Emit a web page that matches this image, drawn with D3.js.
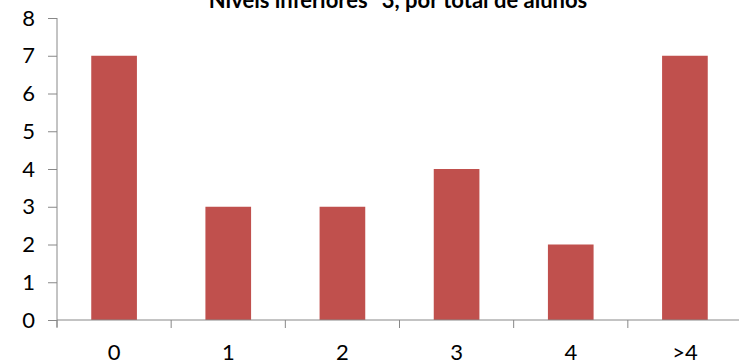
<!DOCTYPE html>
<html><head><meta charset="utf-8">
<script src="https://cdn.jsdelivr.net/npm/d3@7"></script>
<style>body{margin:0;background:#fff}svg{display:block}</style>
</head><body>
<script>
const categories = ["0","1","2","3","4",">4"];
const values = [7,3,3,4,2,7];
const yTicks = [0,1,2,3,4,5,6,7,8];
const title = "Níveis inferiores ´3, por total de alunos";

const W = 739, H = 364;
const m = {left:57, top:18, right:-3, bottom:44};
const svg = d3.select("body").append("svg").attr("width",W).attr("height",H);
const x = d3.scaleBand().domain(categories).range([m.left, W - m.right]).paddingInner(0.6).paddingOuter(0.3);
const y = d3.scaleLinear().domain([0,8]).range([H - m.bottom, m.top]);
const font = "Lato, 'Open Sans', sans-serif";

svg.selectAll("rect.bar").data(values).join("rect").attr("class","bar")
  .attr("x",(d,i)=>x(categories[i])).attr("width",x.bandwidth())
  .attr("y",d=>y(d)).attr("height",d=>y(0)-y(d)).attr("fill","#C0504D");

const ya = svg.append("g").attr("transform",`translate(${m.left},0)`)
  .call(d3.axisLeft(y).tickValues(yTicks).tickSize(9).tickPadding(13).tickFormat(d3.format("d")));
const xa = svg.append("g").attr("transform",`translate(0,${y(0)})`)
  .call(d3.axisBottom(x).tickSize(0).tickPadding(24));
const step = x.step();
const bounds = d3.range(categories.length+1).map(i=>m.left + i*step);
xa.selectAll("line.bt").data(bounds).join("line").attr("class","bt")
  .attr("x1",d=>d).attr("x2",d=>d).attr("y1",0).attr("y2",8).attr("stroke","#888");
[ya,xa].forEach(g=>{
  g.selectAll(".domain,.tick line").attr("stroke","#888");
  g.selectAll("text").attr("fill","#000").style("font-family",font).style("font-size","22px");
});
xa.select(".domain").attr("d",`M${m.left},0H${W}`);
ya.select(".domain").attr("d",`M0,${m.top}V${y(0)+7}`);

svg.append("text").attr("x",398).attr("y",8).attr("text-anchor","middle")
  .style("font-family",font).style("font-weight","bold").style("font-size","22px").text(title);
</script>
</body></html>
